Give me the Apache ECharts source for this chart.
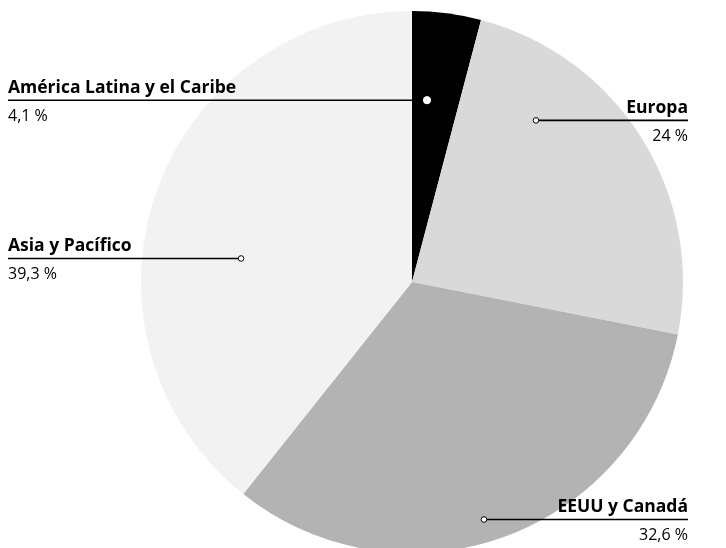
<!DOCTYPE html>
<html><head><meta charset="utf-8">
<script src="https://cdn.jsdelivr.net/npm/echarts@6/dist/echarts.min.js"></script>
<style>html,body{margin:0;padding:0;background:#fff}#c{width:726px;height:548px}</style>
</head><body><div id="c"></div>
<script>
const categories = ['América Latina y el Caribe', 'Europa', 'EEUU y Canadá', 'Asia y Pacífico'];
const values = [4.1, 24, 32.6, 39.3];
const valueLabels = ['4,1 %', '24 %', '32,6 %', '39,3 %'];
const colors = ['#000000', '#d9d9d9', '#b3b3b3', '#f2f2f2'];

// annotation anchor dots: angle (deg clockwise from top), radius fraction
const dotAngle = [4.7, 37.4, 163.1, 278];
const dotRadius = [0.675, 0.753, 0.914, 0.637];
const labelSide = ['left', 'right', 'right', 'left'];

const CX = 412, CY = 282, R = 271;
const LEFT_X = 8, RIGHT_X = 688;
const FONT = '"Open Sans", "Noto Sans", sans-serif';

function dotPos(i) {
  const a = dotAngle[i] * Math.PI / 180;
  return [CX + Math.sin(a) * R * dotRadius[i], CY - Math.cos(a) * R * dotRadius[i]];
}

const lines = [];
const dots = [];
categories.forEach((c, i) => {
  const d = dotPos(i);
  const ex = labelSide[i] === 'left' ? LEFT_X : RIGHT_X;
  lines.push({
    type: 'line', z: 90, silent: true,
    shape: { x1: d[0], y1: d[1] + 0.5, x2: ex, y2: d[1] + 0.5 },
    style: { stroke: '#000', lineWidth: 1.6 }
  });
  dots.push({
    type: 'circle', z: 100, silent: true,
    shape: { cx: d[0], cy: d[1] + 0.5, r: i === 0 ? 3.6 : 2.8 },
    style: { fill: '#fff', stroke: i === 0 ? '#fff' : '#000', lineWidth: 1 }
  });
});

const chart = echarts.init(document.getElementById('c'));
chart.setOption({
  animation: false,
  series: [{
    type: 'pie',
    center: [CX, CY],
    radius: [0, R],
    startAngle: 90,
    clockwise: true,
    label: {
      show: true,
      position: 'outside',
      overflow: 'none',
      fontFamily: FONT,
      formatter: p => '{n|' + p.name + '}\n{v|' + valueLabels[p.dataIndex] + '}',
      rich: {
        n: { fontFamily: FONT, fontWeight: 'bold', fontSize: 17.5, lineHeight: 22, color: '#000' },
        v: { fontFamily: FONT, fontSize: 16, lineHeight: 35, color: '#000' }
      }
    },
    labelLine: { show: false },
    labelLayout: function (params) {
      const i = params.dataIndex;
      const d = dotPos(i);
      const left = labelSide[i] === 'left';
      return {
        x: left ? LEFT_X : RIGHT_X,
        y: d[1] - 23,
        align: left ? 'left' : 'right',
        verticalAlign: 'top'
      };
    },
    emphasis: { disabled: true },
    data: categories.map((c, i) => ({ name: c, value: values[i], itemStyle: { color: colors[i] } }))
  }],
  graphic: lines.concat(dots)
});
</script></body></html>
